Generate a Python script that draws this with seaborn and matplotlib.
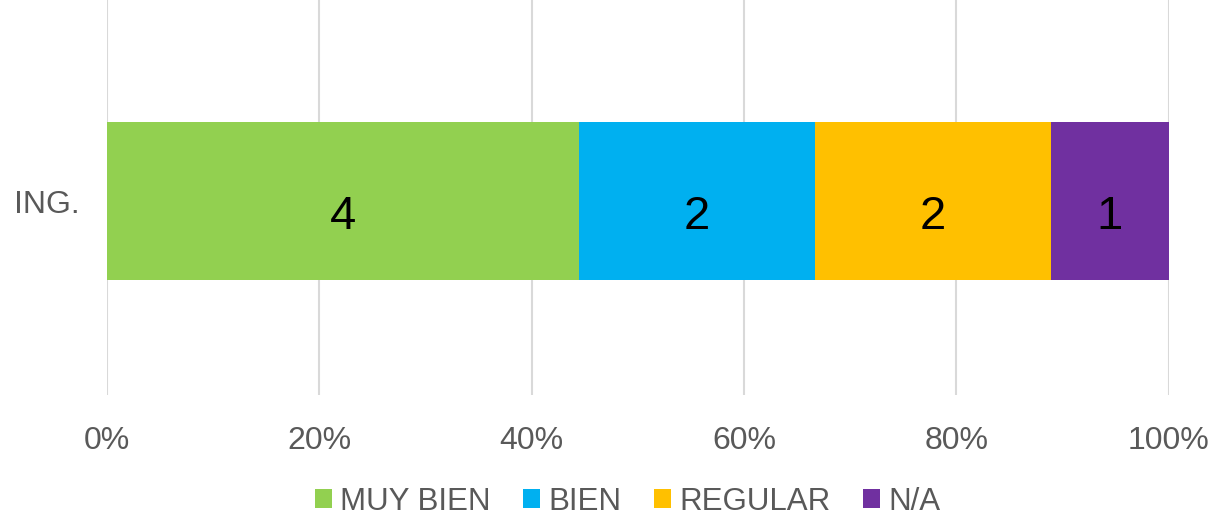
import pandas as pd
import seaborn as sns
import matplotlib.pyplot as plt
from matplotlib.patches import Patch
from matplotlib.ticker import PercentFormatter

# Data
grupo = ['ING.']
categorias = ['MUY BIEN', 'BIEN', 'REGULAR', 'N/A']
conteos = [4, 2, 2, 1]
colores = ['#92D050', '#00B0F0', '#FFC000', '#7030A0']

total = sum(conteos)
pct = [c / total * 100 for c in conteos]
acum = pd.Series(pct).cumsum().tolist()

sns.set_theme(style='white')
plt.rcParams['font.family'] = ['Liberation Sans', 'DejaVu Sans']

fig = plt.figure(figsize=(12.16, 5.19), dpi=100)
ax = fig.add_axes([0.088, 0.239, 0.873, 0.761])

# Stacked bars: draw cumulative totals from the right-most segment backwards
for i in reversed(range(len(categorias))):
    df = pd.DataFrame({'grupo': grupo, 'valor': [acum[i]]})
    sns.barplot(data=df, x='valor', y='grupo', orient='h', color=colores[i],
                saturation=1, width=0.4, linewidth=0, ax=ax, zorder=2)

# Segment labels
inicio = 0
for c, p in zip(conteos, pct):
    ax.text(inicio + p / 2, 0.04, str(c), ha='center', va='center',
            fontsize=34, color='black', zorder=3)
    inicio += p

ax.set_xlim(0, 100)
ax.set_ylim(0.491, -0.509)
ax.xaxis.set_major_formatter(PercentFormatter(decimals=0))
ax.set_xticks(range(0, 101, 20))
ax.grid(axis='x', color='#D9D9D9', linewidth=1.5, zorder=0)
ax.set_axisbelow(True)
for s in ax.spines.values():
    s.set_visible(False)
ax.tick_params(axis='both', length=0, labelsize=23, labelcolor='#595959')
ax.tick_params(axis='x', pad=22)
ax.tick_params(axis='y', pad=20)
ax.set_xlabel('')
ax.set_ylabel('')

handles = [Patch(facecolor=col, edgecolor='none') for col in colores]
fig.legend(handles, categorias, loc='lower center', ncol=4, frameon=False,
           fontsize=22.5, labelcolor='#595959', handlelength=0.55, handleheight=0.55,
           handletextpad=0.25, columnspacing=1.05, bbox_to_anchor=(0.516, -0.05))

plt.savefig('out.png', dpi=100)
